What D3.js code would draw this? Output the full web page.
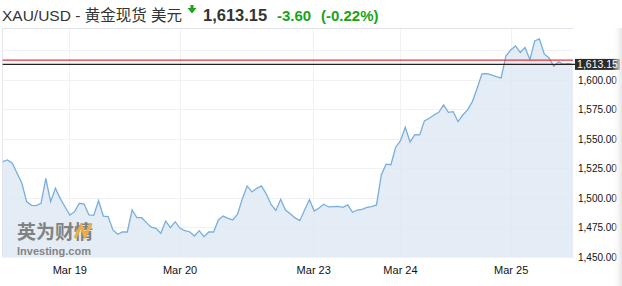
<!DOCTYPE html>
<html>
<head>
<meta charset="utf-8">
<script src="https://cdn.jsdelivr.net/npm/d3@7"></script>
<style>
  body { margin: 0; background: #fff; }
  svg { display: block; font-family: "Liberation Sans", Arial, "Noto Sans CJK SC", sans-serif; }
</style>
</head>
<body>
<div id="chart"></div>
<script>
// hourly closes, XAU/USD
var prices = [
  1530.8, 1532.2, 1529.4, 1520.9, 1512.5, 1496.9, 1493.8, 1493.5, 1495.5, 1516.7,
  1496.9, 1508.2, 1499.7, 1492.6, 1485.6, 1488.4, 1495.5, 1494.9, 1485.6, 1485.3,
  1497.7, 1484.7, 1484.2, 1472.9, 1469.2, 1471.2, 1471.2, 1489.8, 1483.3, 1483.3,
  1479.1, 1475.2, 1474.3, 1470.1, 1480.5, 1474.8, 1479.9, 1474.3, 1472.3, 1471.4,
  1467.8, 1472.3, 1467.2, 1471.2, 1471.2, 1481.4, 1484.7, 1482.8, 1481.4, 1486.2,
  1499.2, 1510.2, 1505.1, 1508.2, 1510.2, 1503.4, 1494.5, 1489.4, 1498.9, 1489.8,
  1486.7, 1483.1, 1480.8, 1489.8, 1498.7, 1489.0, 1491.5, 1494.7, 1492.4, 1492.6,
  1492.8, 1492.1, 1494.1, 1487.9, 1489.8, 1490.4, 1492.1, 1492.6, 1494.1, 1519.5,
  1528.6, 1528.2, 1543.0, 1548.6, 1559.9, 1547.5, 1553.6, 1553.4, 1565.3, 1567.5,
  1570.3, 1572.6, 1578.8, 1572.6, 1573.1, 1564.7, 1570.3, 1574.6, 1581.6, 1593.0,
  1605.1, 1605.3, 1604.2, 1602.8, 1601.7, 1620.3, 1625.4, 1628.8, 1623.3, 1627.5,
  1617.2, 1633.0, 1634.7, 1622.0, 1618.6, 1611.6, 1615.3, 1613.3, 1613.8, 1613.15
];

var dayLabels = ["Mar 19", "Mar 20", "Mar 23", "Mar 24", "Mar 25"];
var dayIndex = [13.9, 36.9, 64.8, 82.9, 106.0];
var yTicks = [1450, 1475, 1500, 1525, 1550, 1575, 1600, 1625];

var lastPrice = 1613.15;
var prevClose = 1616.75;
var change = -3.60;
var changePct = -0.22;

var width = 622, height = 286;
var plotLeft = 2.7, plotRight = 573, plotTop = 28, plotBottom = 257;

var svg = d3.select("#chart").append("svg")
  .attr("width", width)
  .attr("height", height);

var fmt = d3.format(",.2f");

// header
var head = svg.append("g");
head.append("text")
  .attr("x", 2).attr("y", 21)
  .attr("font-size", 15.5)
  .attr("fill", "#333")
  .text("XAU/USD - 黄金现货 美元");
head.append("path")
  .attr("d", "M187.5,8 L196.5,8 L192,13.5 Z M190.5,5 L193.5,5 L193.5,8.5 L190.5,8.5 Z")
  .attr("fill", "#1aa31a");
head.append("text")
  .attr("x", 203).attr("y", 21)
  .attr("font-size", 16.5)
  .attr("font-weight", "bold")
  .attr("fill", "#333")
  .text(fmt(lastPrice));
head.append("text")
  .attr("x", 277).attr("y", 21)
  .attr("font-size", 15)
  .attr("font-weight", "bold")
  .attr("fill", "#1aa31a")
  .text(change.toFixed(2));
head.append("text")
  .attr("x", 321).attr("y", 21)
  .attr("font-size", 15)
  .attr("font-weight", "bold")
  .attr("fill", "#1aa31a")
  .text("(" + changePct.toFixed(2) + "%)");

// scales
var x = d3.scaleLinear().domain([0, prices.length - 1]).range([plotLeft, plotRight]);
var y = d3.scaleLinear().domain([1450, 1644]).range([plotBottom, plotTop]);

// grid
svg.append("g").selectAll("line")
  .data(yTicks).enter().append("line")
  .attr("x1", plotLeft).attr("x2", plotRight)
  .attr("y1", d => Math.round(y(d)) + 0.5)
  .attr("y2", d => Math.round(y(d)) + 0.5)
  .attr("stroke", "#f0f0f5");
svg.append("g").selectAll("line")
  .data(dayIndex).enter().append("line")
  .attr("x1", d => Math.round(x(d)) + 0.5)
  .attr("x2", d => Math.round(x(d)) + 0.5)
  .attr("y1", plotTop).attr("y2", plotBottom)
  .attr("stroke", "#f0f0f5");

// frame
svg.append("line")
  .attr("x1", 2.5).attr("x2", plotRight).attr("y1", plotTop + 0.5).attr("y2", plotTop + 0.5)
  .attr("stroke", "#e4e4ee");
svg.append("line")
  .attr("x1", 2.5).attr("x2", 2.5).attr("y1", plotTop).attr("y2", plotBottom)
  .attr("stroke", "#e4e4ee");

// area + line
var area = d3.area()
  .x((d, i) => x(i))
  .y0(y(1450))
  .y1(d => y(d));
var line = d3.line()
  .x((d, i) => x(i))
  .y(d => y(d));

svg.append("path")
  .datum(prices)
  .attr("d", area)
  .attr("fill", "#dde8f3")
  .attr("fill-opacity", 0.8);

// watermark
var wm = svg.append("g").attr("opacity", 0.9);
wm.append("text")
  .attr("x", 17).attr("y", 239)
  .attr("font-size", 19)
  .attr("font-weight", "bold")
  .attr("font-family", "Noto Sans CJK SC")
  .attr("fill", "#777")
  .text("英为财情");
wm.append("path")
  .attr("d", "M75,238 L81,226 L85,236 L91,224")
  .attr("fill", "none")
  .attr("stroke", "#f0a830")
  .attr("stroke-width", 3);
wm.append("text")
  .attr("x", 17).attr("y", 255)
  .attr("font-size", 11)
  .attr("font-weight", "bold")
  .attr("fill", "#7a7a7a")
  .text("Investing.com");

svg.append("path")
  .datum(prices)
  .attr("d", line)
  .attr("fill", "none")
  .attr("stroke", "#78aedf")
  .attr("stroke-width", 1.3);

// previous close and last price
svg.append("line")
  .attr("x1", plotLeft).attr("x2", plotRight)
  .attr("y1", y(prevClose)).attr("y2", y(prevClose))
  .attr("stroke", "#e8323c").attr("stroke-width", 1.3);
svg.append("line")
  .attr("x1", plotLeft).attr("x2", 575)
  .attr("y1", y(lastPrice)).attr("y2", y(lastPrice))
  .attr("stroke", "#222").attr("stroke-width", 1.3);

// y axis labels
var yAxis = d3.axisRight(y)
  .tickValues(yTicks.slice(0, 7))
  .tickSize(0)
  .tickPadding(0)
  .tickFormat(fmt);
var ya = svg.append("g")
  .attr("transform", "translate(578,0)")
  .call(yAxis);
ya.select(".domain").remove();
ya.selectAll("text")
  .attr("font-size", 10)
  .attr("font-family", "Liberation Sans, Arial, sans-serif")
  .attr("fill", "#111");

// price tag
svg.append("rect")
  .attr("x", 575).attr("y", y(lastPrice) - 5.5)
  .attr("width", 45).attr("height", 11)
  .attr("fill", "#2b2b2b");
svg.append("text")
  .attr("x", 597.5).attr("y", y(lastPrice) + 4)
  .attr("text-anchor", "middle")
  .attr("font-size", 10.5)
  .attr("fill", "#fff")
  .text(fmt(lastPrice));

// x axis labels
var xAxis = d3.axisBottom(x)
  .tickValues(dayIndex)
  .tickSize(0)
  .tickPadding(0)
  .tickFormat((d, i) => dayLabels[i]);
var xa = svg.append("g")
  .attr("transform", "translate(0,266)")
  .call(xAxis);
xa.select(".domain").remove();
xa.selectAll("text")
  .attr("font-size", 11)
  .attr("font-family", "Liberation Sans, Arial, sans-serif")
  .attr("fill", "#111");

// right edge shade
var grad = svg.append("defs").append("linearGradient")
  .attr("id", "shade").attr("x1", 0).attr("x2", 1);
grad.append("stop").attr("offset", 0).attr("stop-color", "#fff").attr("stop-opacity", 0);
grad.append("stop").attr("offset", 1).attr("stop-color", "#e6e6e6").attr("stop-opacity", 1);
svg.append("rect")
  .attr("x", 612).attr("y", 28).attr("width", 10).attr("height", 258)
  .attr("fill", "url(#shade)");
</script>
</body>
</html>
